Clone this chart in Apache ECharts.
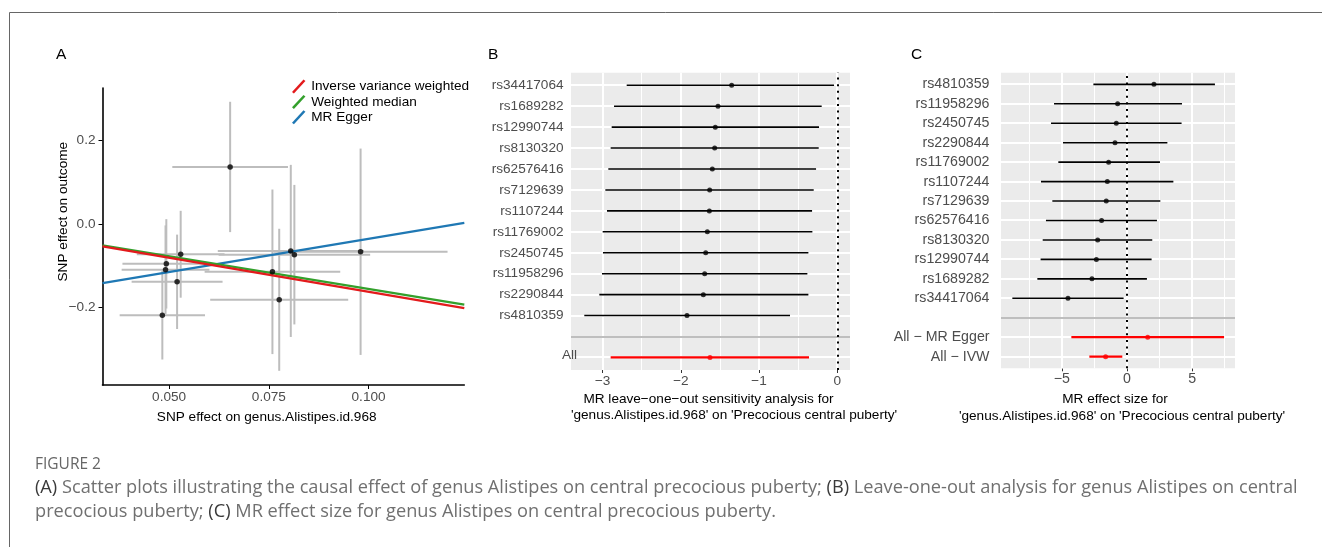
<!DOCTYPE html>
<html>
<head>
<meta charset="utf-8">
<script src="https://cdn.jsdelivr.net/npm/echarts@6/dist/echarts.min.js"></script>
<style>
  html, body { margin: 0; padding: 0; background: #fff; }
  #chart { width: 1322px; height: 547px; }
</style>
</head>
<body>
<div id="chart"></div>
<script>
// ---- panel A: SNP effects on exposure / outcome ----
var snpX = [0.0653, 0.0483, 0.0493, 0.0491, 0.0520, 0.0529, 0.0759, 0.0776, 0.0805, 0.0814, 0.0980];
var snpXse = [0.0145, 0.0107, 0.0110, 0.0110, 0.0114, 0.0110, 0.0170, 0.0173, 0.0183, 0.0190, 0.0218];
var snpY = [0.136, -0.219, -0.096, -0.110, -0.139, -0.073, -0.115, -0.182, -0.065, -0.074, -0.067];
var snpYse = [0.156, 0.106, 0.107, 0.106, 0.113, 0.104, 0.197, 0.170, 0.206, 0.167, 0.247];
var methodNames = ['Inverse variance weighted', 'Weighted median', 'MR Egger'];
var methodSlope = [-1.63, -1.56, 1.59];
var methodIntercept = [0, 0, -0.195];
var ticksAX = [0.05, 0.075, 0.1];
var ticksAY = [-0.2, 0, 0.2];

// ---- panel B: leave-one-out (top to bottom) ----
var looSnps = ['rs34417064', 'rs1689282', 'rs12990744', 'rs8130320', 'rs62576416', 'rs7129639',
  'rs1107244', 'rs11769002', 'rs2450745', 'rs11958296', 'rs2290844', 'rs4810359'];
var looEst = [-1.351, -1.526, -1.560, -1.568, -1.598, -1.632, -1.636, -1.662, -1.683, -1.696, -1.713, -1.922];
var looLo = [-2.693, -2.855, -2.885, -2.898, -2.928, -2.966, -2.945, -3.000, -2.996, -3.009, -3.043, -3.235];
var looHi = [-0.042, -0.200, -0.234, -0.238, -0.272, -0.302, -0.323, -0.319, -0.370, -0.383, -0.370, -0.605];
var looAllName = 'All';
var looAll = [-1.628, -2.898, -0.362]; // est, lo, hi
var ticksBX = [-3, -2, -1, 0];
var minorBX = [-2.5, -1.5, -0.5];

// ---- panel C: single SNP effects (top to bottom) ----
var singleSnps = ['rs4810359', 'rs11958296', 'rs2450745', 'rs2290844', 'rs11769002', 'rs1107244',
  'rs7129639', 'rs62576416', 'rs8130320', 'rs12990744', 'rs1689282', 'rs34417064'];
var singleEst = [2.07, -0.72, -0.82, -0.92, -1.41, -1.51, -1.59, -1.95, -2.25, -2.35, -2.69, -4.53];
var singleLo = [-2.58, -5.60, -5.83, -4.91, -5.27, -6.60, -5.73, -6.22, -6.47, -6.63, -6.88, -8.80];
var singleHi = [6.75, 4.22, 4.19, 3.10, 2.53, 3.56, 2.56, 2.30, 1.94, 1.89, 1.53, -0.26];
var summaryNames = ['All − MR Egger', 'All − IVW'];
var summaryEst = [1.59, -1.64];
var summaryLo = [-4.27, -2.89];
var summaryHi = [7.45, -0.36];
var ticksCX = [-5, 0, 5];
var minorCX = [-7.5, -2.5, 2.5, 7.5];

var FONT = 'Liberation Sans, Arial, sans-serif';
var CAP = 'Open Sans, sans-serif';
var lineColors = ['#e31a1c', '#33a02c', '#1f78b4'];

function minus(s) { return String(s).replace('-', '−'); }

// row positions (bottom = 1)
var rowsB = ['', ''].concat(looSnps.slice().reverse());          // All (drawn apart), blank, snps
var rowsC = summaryNames.slice().reverse().concat(['']).concat(singleSnps.slice().reverse());
var posB = rowsB.map(function (r, i) { return i + 1; });
var posC = rowsC.map(function (r, i) { return i + 1; });

var myChart = echarts.init(document.getElementById('chart'));

function hbar(color, width) {
  return function (params, api) {
    var a = api.coord([api.value(0), api.value(2)]);
    var b = api.coord([api.value(1), api.value(2)]);
    return { type: 'line', shape: { x1: a[0], y1: a[1], x2: b[0], y2: b[1] },
      style: { stroke: api.value(3) ? '#ff0000' : color, lineWidth: api.value(3) ? 2.3 : width } };
  };
}

// snap a line centre to the pixel grid so thin white lines stay crisp
function snap(c, w) { return w % 2 === 0 ? Math.round(c) : Math.floor(c) + 0.5; }

// ggplot-like panel: kind 0 = background, 1 = major x, 2 = minor x, 3 = row line, 4 = separator
function panelItem(params, api) {
  var cs = params.coordSys;
  var kind = api.value(0), v = api.value(1);
  if (kind === 0) {
    return { type: 'rect', shape: { x: cs.x, y: cs.y, width: cs.width, height: cs.height },
      style: { fill: '#ebebeb' } };
  }
  if (kind === 1 || kind === 2) {
    var w = kind === 1 ? 2 : 1;
    var x = snap(api.coord([v, 1])[0], w);
    return { type: 'line', shape: { x1: x, y1: cs.y, x2: x, y2: cs.y + cs.height },
      style: { stroke: '#ffffff', lineWidth: w } };
  }
  var lw = 2;
  var y = snap(api.coord([0, v])[1], lw);
  return { type: 'line', shape: { x1: cs.x, y1: y, x2: cs.x + cs.width, y2: y },
    style: { stroke: kind === 4 ? '#bebebe' : '#ffffff', lineWidth: lw } };
}
function panelData(major, minor, rows, sepRow) {
  var d = [[0, 0]];
  major.forEach(function (v) { d.push([1, v]); });
  minor.forEach(function (v) { d.push([2, v]); });
  rows.forEach(function (v) { d.push([3, v]); });
  d.push([4, sepRow]);
  return d;
}
function zeroLine() {
  return { symbol: 'none', silent: true, label: { show: false },
    lineStyle: { color: '#000', width: 2, type: [2, 4.6] }, data: [{ xAxis: 0 }] };
}

var crossData = snpX.map(function (x, i) { return [x, snpY[i], snpXse[i], snpYse[i]]; });
var xMinA = 0.0333, xMaxA = 0.124;

var series = [];
// panel A error bars
series.push({
  type: 'custom', xAxisIndex: 0, yAxisIndex: 0, z: 1, silent: true,
  data: crossData,
  renderItem: function (params, api) {
    var x = api.value(0), y = api.value(1), sx = api.value(2), sy = api.value(3);
    var h1 = api.coord([x - sx, y]), h2 = api.coord([x + sx, y]);
    var v1 = api.coord([x, y - sy]), v2 = api.coord([x, y + sy]);
    var st = { stroke: '#bdbdbd', lineWidth: 2 };
    return { type: 'group', children: [
      { type: 'line', shape: { x1: h1[0], y1: h1[1], x2: h2[0], y2: h2[1] }, style: st },
      { type: 'line', shape: { x1: v1[0], y1: v1[1], x2: v2[0], y2: v2[1] }, style: st }
    ] };
  }
});
// regression lines
methodNames.forEach(function (name, k) {
  series.push({
    name: name, type: 'line', xAxisIndex: 0, yAxisIndex: 0, z: 2 + (2 - k) * 0.1, silent: true,
    symbol: 'none',
    data: [[xMinA, methodIntercept[k] + methodSlope[k] * xMinA], [xMaxA, methodIntercept[k] + methodSlope[k] * xMaxA]],
    lineStyle: { color: lineColors[k], width: 2.2 },
    itemStyle: { color: lineColors[k] }
  });
});
series.push({
  type: 'scatter', xAxisIndex: 0, yAxisIndex: 0, z: 4, silent: true,
  symbolSize: 5.5, itemStyle: { color: '#000' },
  data: snpX.map(function (x, i) { return [x, snpY[i]]; })
});

// panel B
series.push({
  type: 'custom', xAxisIndex: 1, yAxisIndex: 1, z: 1, silent: true, clip: false,
  encode: { x: -1, y: -1 },
  data: panelData(ticksBX, minorBX, posB, 2), renderItem: panelItem
});
var barsB = looSnps.map(function (s, i) { return [looLo[i], looHi[i], 14 - i, 0]; });
barsB.push([looAll[1], looAll[2], 1, 1]);
series.push({
  type: 'custom', xAxisIndex: 1, yAxisIndex: 1, z: 2, silent: true,
  data: barsB, renderItem: hbar('#000', 1.6)
});
series.push({
  type: 'scatter', xAxisIndex: 1, yAxisIndex: 1, z: 3, silent: true, symbolSize: 5,
  data: looEst.map(function (e, i) { return [e, 14 - i]; })
    .concat([{ value: [looAll[0], 1], itemStyle: { color: '#ff0000' } }]),
  itemStyle: { color: '#000' },
  markLine: zeroLine()
});

// panel C
series.push({
  type: 'custom', xAxisIndex: 2, yAxisIndex: 2, z: 1, silent: true, clip: false,
  encode: { x: -1, y: -1 },
  data: panelData(ticksCX, minorCX, posC, 3), renderItem: panelItem
});
var barsC = singleSnps.map(function (s, i) { return [singleLo[i], singleHi[i], 15 - i, 0]; });
summaryNames.forEach(function (s, j) { barsC.push([summaryLo[j], summaryHi[j], 2 - j, 1]); });
series.push({
  type: 'custom', xAxisIndex: 2, yAxisIndex: 2, z: 2, silent: true,
  data: barsC, renderItem: hbar('#000', 1.6)
});
series.push({
  type: 'scatter', xAxisIndex: 2, yAxisIndex: 2, z: 3, silent: true, symbolSize: 5,
  data: singleEst.map(function (e, i) { return [e, 15 - i]; })
    .concat(summaryEst.map(function (e, j) { return { value: [e, 2 - j], itemStyle: { color: '#ff0000' } }; })),
  itemStyle: { color: '#000' },
  markLine: zeroLine()
});

function lab(size) { return { color: '#4d4d4d', fontSize: size, fontFamily: FONT }; }
var tick = { show: true, length: 3, lineStyle: { color: '#333', width: 1 } };

function panelX(grid, min, max, ticks, size) {
  return { type: 'value', gridIndex: grid, min: min, max: max,
    axisLine: { show: false }, axisTick: Object.assign({ customValues: ticks }, tick),
    axisLabel: Object.assign({ customValues: ticks, margin: 4, formatter: function (v) { return minus(v); } }, lab(size)),
    splitLine: { show: false } };
}
function panelY(grid, max, pos, rows, size, margin) {
  return { type: 'value', gridIndex: grid, min: 0.4, max: max,
    axisLine: { show: false }, axisTick: Object.assign({ customValues: pos }, tick),
    axisLabel: Object.assign({ customValues: pos, margin: margin, formatter: function (v) { return rows[Math.round(v) - 1] || ''; } }, lab(size)),
    splitLine: { show: false } };
}

var captionRich = { b: { fill: '#3a3a3a', fontSize: 18.2, fontFamily: CAP } };
function txt(x, y, text, size, align, color, family, rot) {
  return { type: 'text', x: x, y: y, z: 10, rotation: rot || 0, silent: true,
    style: { text: text, fontSize: size, fontFamily: family || FONT, fill: color || '#000',
      align: align || 'left', verticalAlign: 'middle', rich: captionRich } };
}

var option = {
  animation: false,
  grid: [
    { left: 102.5, top: 88, width: 361.8, height: 297, show: false },
    { left: 571, top: 72.7, width: 279, height: 297.3, show: false },
    { left: 1001, top: 72.7, width: 234, height: 295.6, show: false }
  ],
  legend: {
    left: 287, top: 74.5, orient: 'vertical', selectedMode: false,
    itemWidth: 15, itemHeight: 14, itemGap: 1.4,
    icon: 'path://M0,13 L12,0 L14,1.6 L2,14.6 Z',
    textStyle: { fontSize: 13.6, fontFamily: FONT, color: '#000' },
    data: methodNames
  },
  xAxis: [
    { type: 'value', gridIndex: 0, min: xMinA, max: xMaxA,
      axisLine: { show: true, onZero: false, lineStyle: { color: '#000', width: 1.6 } },
      axisTick: { show: true, length: 4, customValues: ticksAX, lineStyle: { color: '#000', width: 1 } },
      axisLabel: Object.assign({ customValues: ticksAX, margin: 5, formatter: function (v) { return v.toFixed(3); } }, lab(13.6)),
      splitLine: { show: false } },
    panelX(1, -3.405, 0.162, ticksBX, 13.6),
    panelX(2, -9.67, 8.29, ticksCX, 14.2)
  ],
  yAxis: [
    { type: 'value', gridIndex: 0, min: -0.386, max: 0.325,
      axisLine: { show: true, onZero: false, lineStyle: { color: '#000', width: 1.6 } },
      axisTick: { show: true, length: 4, customValues: ticksAY, lineStyle: { color: '#000', width: 1 } },
      axisLabel: Object.assign({ customValues: ticksAY, margin: 7, formatter: function (v) { return minus(v.toFixed(1)); } }, lab(13.6)),
      splitLine: { show: false } },
    panelY(1, 14.6, posB, rowsB, 13.6, 7.5),
    panelY(2, 15.6, posC, rowsC, 14.2, 11.5)
  ],
  graphic: [
    { type: 'line', silent: true, shape: { x1: 9.5, y1: 12.5, x2: 1322, y2: 12.5 }, style: { stroke: '#666', lineWidth: 1 } },
    { type: 'line', silent: true, shape: { x1: 9.5, y1: 12.5, x2: 9.5, y2: 547 }, style: { stroke: '#666', lineWidth: 1 } },
    txt(56, 55, 'A', 15.5),
    txt(488, 55, 'B', 15.5),
    txt(911, 55, 'C', 15.5),
    txt(266.7, 417.5, 'SNP effect on genus.Alistipes.id.968', 13.6, 'center'),
    txt(63.3, 211.7, 'SNP effect on outcome', 13.6, 'center', '#000', FONT, Math.PI / 2),
    txt(562, 355, looAllName, 13.6, 'left', '#4d4d4d'),
    txt(708.5, 399, 'MR leave−one−out sensitivity analysis for', 13.6, 'center'),
    txt(734, 415.5, '\'genus.Alistipes.id.968\' on \'Precocious central puberty\'', 13.6, 'center'),
    txt(1115, 399, 'MR effect size for', 13.6, 'center'),
    txt(1122, 416.5, '\'genus.Alistipes.id.968\' on \'Precocious central puberty\'', 13.6, 'center'),
    txt(35, 465, 'FIGURE 2', 15.5, 'left', '#666', CAP),
    txt(35, 488, '{b|(A)} Scatter plots illustrating the causal effect of genus Alistipes on central precocious puberty; {b|(B)} Leave-one-out analysis for genus Alistipes on central', 18.2, 'left', '#707070', CAP),
    txt(35, 512, 'precocious puberty; {b|(C)} MR effect size for genus Alistipes on central precocious puberty.', 18.2, 'left', '#707070', CAP)
  ],
  series: series
};

myChart.setOption(option);
</script>
</body>
</html>
